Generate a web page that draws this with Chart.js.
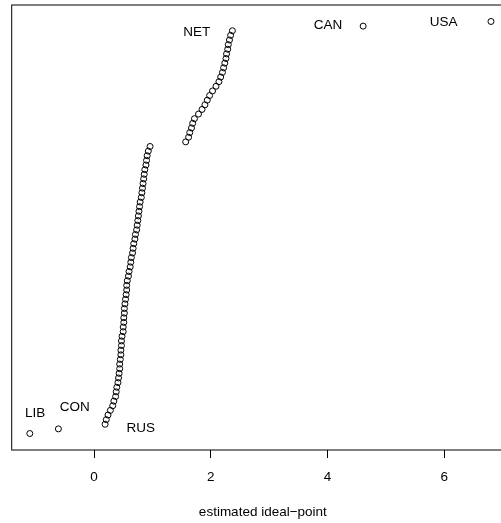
<!DOCTYPE html>
<html>
<head>
<meta charset="utf-8">
<script src="https://cdn.jsdelivr.net/npm/chart.js@4/dist/chart.umd.min.js"></script>
<style>
html,body{margin:0;padding:0;background:#fff;overflow:hidden;width:501px;height:523px;}
#wrap{position:absolute;left:0;top:0;width:540px;height:523px;}
</style>
</head>
<body>
<div id="wrap"><canvas id="c"></canvas></div>
<script>
// Estimated ideal points, sorted (rank 1 = lowest)
const idealPoints = [
  -1.10, -0.61,
  0.19,0.21,0.24,0.28,0.32,0.34,0.37,0.38,0.39,0.41,
  0.42,0.43,0.44,0.44,0.45,0.46,0.46,0.47,0.47,0.48,
  0.50,0.50,0.51,0.51,0.52,0.52,0.53,0.54,0.55,0.56,
  0.56,0.57,0.59,0.60,0.62,0.63,0.64,0.66,0.67,0.68,
  0.70,0.71,0.73,0.74,0.75,0.76,0.77,0.78,0.79,0.81,
  0.82,0.83,0.84,0.85,0.86,0.87,0.89,0.90,0.91,0.93,
  0.96,
  1.57,1.62,1.64,1.67,1.69,1.72,1.79,1.85,1.90,1.94,
  1.98,2.03,2.09,2.14,2.17,2.20,2.22,2.24,2.26,2.27,
  2.29,2.30,2.32,2.34,2.37,
  4.61, 6.80
];
const xTicks = [0, 2, 4, 6];
const xTitle = 'estimated ideal\u2212point';
const labelNames = ['LIB', 'CON', 'RUS', 'NET', 'CAN', 'USA'];
const labelX = [-1.01, -0.33, 0.80, 1.76, 4.01, 5.99];
const labelY = [5.4, 6.7, 2.1, 87.6, 89.1, 89.8];

const FONT = "'Liberation Sans', Arial, Helvetica, sans-serif";
const FSIZE = 13.5;

const points = idealPoints.map((v, i) => ({x: v, y: i + 1}));

const boxPlugin = {
  id: 'box',
  afterDatasetsDraw(chart) {
    const {ctx, chartArea: a, scales} = chart;
    ctx.save();
    ctx.strokeStyle = '#000';
    ctx.lineWidth = 1;
    ctx.strokeRect(a.left, a.top, a.right - a.left, a.bottom - a.top);
    ctx.fillStyle = '#000';
    ctx.font = FSIZE + 'px ' + FONT;
    ctx.textAlign = 'center';
    ctx.textBaseline = 'middle';
    labelNames.forEach((t, i) => {
      ctx.fillText(t, scales.x.getPixelForValue(labelX[i]), scales.y.getPixelForValue(labelY[i]));
    });
    ctx.restore();
  }
};

new Chart(document.getElementById('c'), {
  type: 'scatter',
  data: {
    datasets: [{
      data: points,
      pointStyle: 'circle',
      pointRadius: 3,
      pointBorderWidth: 1,
      pointBorderColor: '#000',
      pointBackgroundColor: 'rgba(0,0,0,0)',
      showLine: false
    }]
  },
  options: {
    responsive: true,
    maintainAspectRatio: false,
    animation: false,
    events: [],
    layout: {padding: {left: 11.7, top: 4, right: 26, bottom: 0}},
    plugins: {legend: {display: false}, tooltip: {enabled: false}},
    scales: {
      x: {
        type: 'linear',
        min: -1.41,
        max: 7.194,
        afterBuildTicks: (s) => { s.ticks = xTicks.map(v => ({value: v})); },
        afterFit: (s) => { s.height = 73; },
        grid: {display: true, drawOnChartArea: false, drawTicks: true, tickLength: 8, color: '#000', lineWidth: 1},
        border: {display: false},
        ticks: {color: '#000', font: {family: FONT, size: FSIZE}, padding: 11, maxRotation: 0, autoSkip: false,
                callback: (v) => String(v)},
        title: {display: true, text: xTitle, color: '#000', font: {family: FONT, size: FSIZE}, padding: {top: 0, bottom: 3}}
      },
      y: {
        type: 'linear',
        display: false,
        min: -2.56,
        max: 93.56
      }
    }
  },
  plugins: [boxPlugin]
});
</script>
</body>
</html>
